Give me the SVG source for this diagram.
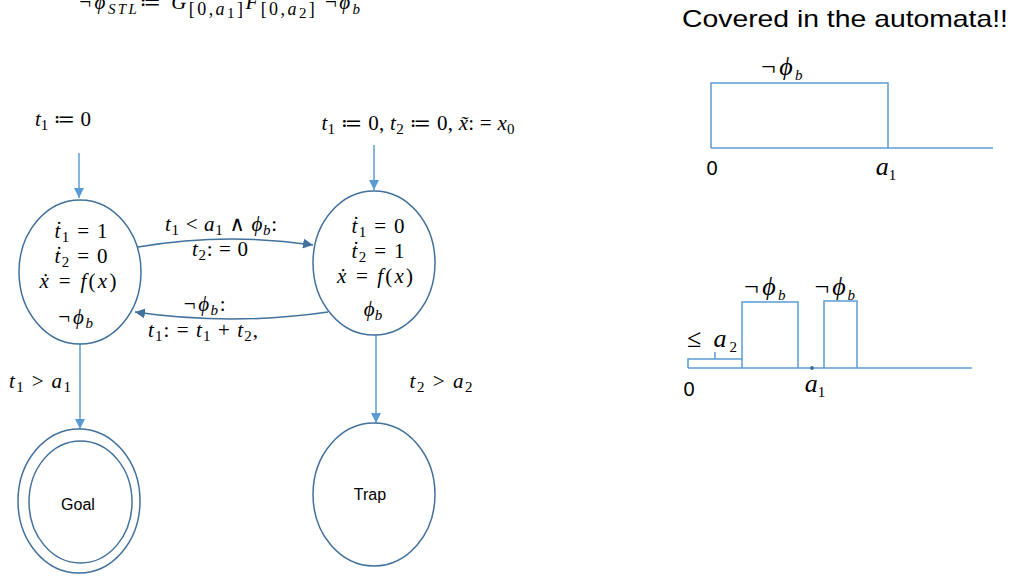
<svg xmlns="http://www.w3.org/2000/svg" width="1013" height="576" viewBox="0 0 1013 576">
<style>
.st{fill:none;stroke:#41719C;stroke-width:1.5}
.cn{fill:none;stroke:#5B9BD5;stroke-width:1.5}
.tr{fill:none;stroke:#41719C;stroke-width:1.5}
.ch{fill:none;stroke:#5B9BD5;stroke-width:1.5}
.m{font-family:"Liberation Serif","DejaVu Serif",serif;font-size:21px;fill:#000}
.big{font-size:26px}
.i{font-style:italic}
.s{font-size:15px}
.bs{font-size:18px}
.sans{font-family:"Liberation Sans","DejaVu Sans",sans-serif;fill:#000}
</style>
<defs>
<marker id="al" viewBox="0 0 10 10" refX="10" refY="5" markerWidth="10" markerHeight="10" orient="auto" markerUnits="userSpaceOnUse"><path d="M0,0 L10,5 L0,10 z" fill="#5B9BD5"/></marker>
<marker id="ad" viewBox="0 0 10 10" refX="10" refY="5" markerWidth="10" markerHeight="10" orient="auto" markerUnits="userSpaceOnUse"><path d="M0,0 L10,5 L0,10 z" fill="#41719C"/></marker>
</defs>

<text class="m" x="78" y="9" font-size="26" textLength="282" lengthAdjust="spacing"><tspan class="i">¬ϕ</tspan><tspan class="s i" dy="5">STL</tspan><tspan dy="-5">≔ </tspan><tspan class="i">G</tspan><tspan class="bs" dy="6">[0,</tspan><tspan class="bs i">a</tspan><tspan class="s" dy="3">1</tspan><tspan class="bs" dy="-3">]</tspan><tspan class="i" dy="-6">F</tspan><tspan class="bs" dy="6">[0,</tspan><tspan class="bs i">a</tspan><tspan class="s" dy="3">2</tspan><tspan class="bs" dy="-3">]</tspan><tspan dy="-6"> ¬</tspan><tspan class="i">ϕ</tspan><tspan class="s i" dy="5">b</tspan></text>

<text class="sans" x="682" y="27" font-size="24" textLength="326" lengthAdjust="spacingAndGlyphs">Covered in the automata!!</text>

<g id="connectors">
<line class="cn" x1="79" y1="153" x2="79" y2="198" marker-end="url(#al)"/>
<line class="cn" x1="374" y1="145" x2="374" y2="190" marker-end="url(#al)"/>
<line class="cn" x1="80" y1="344" x2="80" y2="429" marker-end="url(#al)"/>
<line class="cn" x1="376" y1="335" x2="376" y2="423" marker-end="url(#al)"/>
<path class="tr" d="M138,247 Q226,232 313,245" marker-end="url(#ad)"/>
<path class="tr" d="M328,312 Q232,326 135,312" marker-end="url(#ad)"/>
<text class="m" x="63" y="126" text-anchor="middle" textLength="56" lengthAdjust="spacing"><tspan class="i">t</tspan><tspan class="s" dy="4">1</tspan><tspan dy="-4"> ≔ 0</tspan></text>
<text class="m" x="418" y="130" text-anchor="middle" textLength="193" lengthAdjust="spacing"><tspan class="i">t</tspan><tspan class="s" dy="4">1</tspan><tspan dy="-4"> ≔ 0, </tspan><tspan class="i">t</tspan><tspan class="s" dy="4">2</tspan><tspan dy="-4"> ≔ 0, </tspan><tspan class="i">x̃</tspan><tspan>: = </tspan><tspan class="i">x</tspan><tspan class="s" dy="4">0</tspan></text>
<text class="m" x="221" y="231" text-anchor="middle" textLength="112" lengthAdjust="spacing"><tspan class="i">t</tspan><tspan class="s" dy="4">1</tspan><tspan dy="-4"> &lt; </tspan><tspan class="i">a</tspan><tspan class="s" dy="4">1</tspan><tspan dy="-4"> ∧ </tspan><tspan class="i">ϕ</tspan><tspan class="s i" dy="4">b</tspan><tspan dy="-4">:</tspan></text>
<text class="m" x="220" y="256" text-anchor="middle" textLength="56" lengthAdjust="spacing"><tspan class="i">t</tspan><tspan class="s" dy="4">2</tspan><tspan dy="-4">: = 0</tspan></text>
<text class="m" x="204" y="311" text-anchor="middle" textLength="43" lengthAdjust="spacing"><tspan class="i">¬ϕ</tspan><tspan class="s i" dy="4">b</tspan><tspan dy="-4">:</tspan></text>
<text class="m" x="203" y="337" text-anchor="middle" textLength="110" lengthAdjust="spacing"><tspan class="i">t</tspan><tspan class="s" dy="4">1</tspan><tspan dy="-4">: = </tspan><tspan class="i">t</tspan><tspan class="s" dy="4">1</tspan><tspan dy="-4"> + </tspan><tspan class="i">t</tspan><tspan class="s" dy="4">2</tspan><tspan dy="-4">,</tspan></text>
<text class="m" x="40" y="388" text-anchor="middle" textLength="62" lengthAdjust="spacing"><tspan class="i">t</tspan><tspan class="s" dy="4">1</tspan><tspan dy="-4"> &gt; </tspan><tspan class="i">a</tspan><tspan class="s" dy="4">1</tspan></text>
<text class="m" x="441" y="388" text-anchor="middle" textLength="63" lengthAdjust="spacing"><tspan class="i">t</tspan><tspan class="s" dy="4">2</tspan><tspan dy="-4"> &gt; </tspan><tspan class="i">a</tspan><tspan class="s" dy="4">2</tspan></text>
</g>

<g id="s1">
<ellipse class="st" cx="80" cy="272" rx="61" ry="72"/>
<text class="m" x="81" y="238" text-anchor="middle" textLength="53" lengthAdjust="spacing"><tspan class="i">ṫ</tspan><tspan class="s" dy="4">1</tspan><tspan dy="-4"> = 1</tspan></text>
<text class="m" x="81" y="263" text-anchor="middle" textLength="53" lengthAdjust="spacing"><tspan class="i">ṫ</tspan><tspan class="s" dy="4">2</tspan><tspan dy="-4"> = 0</tspan></text>
<text class="m" x="78" y="288" text-anchor="middle" textLength="77" lengthAdjust="spacing"><tspan class="i">ẋ</tspan><tspan> = </tspan><tspan class="i">f</tspan><tspan>(</tspan><tspan class="i">x</tspan><tspan>)</tspan></text>
<text class="m" x="75" y="324" text-anchor="middle" textLength="36" lengthAdjust="spacing"><tspan class="i">¬ϕ</tspan><tspan class="s i" dy="4">b</tspan></text>
</g>

<g id="s2">
<ellipse class="st" cx="374" cy="263" rx="61" ry="72"/>
<text class="m" x="378" y="233" text-anchor="middle" textLength="53" lengthAdjust="spacing"><tspan class="i">ṫ</tspan><tspan class="s" dy="4">1</tspan><tspan dy="-4"> = 0</tspan></text>
<text class="m" x="378" y="258" text-anchor="middle" textLength="53" lengthAdjust="spacing"><tspan class="i">ṫ</tspan><tspan class="s" dy="4">2</tspan><tspan dy="-4"> = 1</tspan></text>
<text class="m" x="375" y="283" text-anchor="middle" textLength="76" lengthAdjust="spacing"><tspan class="i">ẋ</tspan><tspan> = </tspan><tspan class="i">f</tspan><tspan>(</tspan><tspan class="i">x</tspan><tspan>)</tspan></text>
<text class="m" x="373" y="316" text-anchor="middle"><tspan class="i">ϕ</tspan><tspan class="s i" dy="4">b</tspan></text>
</g>

<g id="goal">
<ellipse class="st" cx="79" cy="501" rx="61" ry="72"/>
<ellipse class="st" cx="80.5" cy="502" rx="51.5" ry="61"/>
<text class="sans" x="78" y="510" font-size="16" text-anchor="middle">Goal</text>
</g>

<g id="trap">
<ellipse class="st" cx="374" cy="494.5" rx="61" ry="71.5"/>
<text class="sans" x="370" y="500" font-size="16" text-anchor="middle">Trap</text>
</g>

<g id="chart1">
<polyline class="ch" points="711,148 711,83 888,83 888,148"/>
<line class="ch" x1="711" y1="148" x2="993" y2="148"/>
<text class="m big" x="781" y="75" text-anchor="middle" textLength="43" lengthAdjust="spacing"><tspan class="i">¬ϕ</tspan><tspan class="s i" dy="5">b</tspan></text>
<text class="sans" x="712" y="175" font-size="20" text-anchor="middle">0</text>
<text class="m big" x="886" y="175" text-anchor="middle"><tspan class="i">a</tspan><tspan class="s" dy="5">1</tspan></text>
</g>

<g id="chart2">
<line class="ch" x1="688" y1="368" x2="972" y2="368"/>
<polyline class="ch" points="688,368 688,359 742,359"/>
<line class="ch" x1="715" y1="352" x2="715" y2="359"/>
<polyline class="ch" points="742,368 742,302 798,302 798,368"/>
<polyline class="ch" points="824,368 824,301 857,301 857,368"/>
<circle cx="812" cy="368" r="2" fill="#41719C"/>
<text class="m big" x="712" y="347" text-anchor="middle" textLength="50" lengthAdjust="spacing"><tspan>≤ </tspan><tspan class="i">a</tspan><tspan class="s" dy="5">2</tspan></text>
<text class="m big" x="764" y="295" text-anchor="middle" textLength="43" lengthAdjust="spacing"><tspan class="i">¬ϕ</tspan><tspan class="s i" dy="5">b</tspan></text>
<text class="m big" x="834" y="295" text-anchor="middle" textLength="42" lengthAdjust="spacing"><tspan class="i">¬ϕ</tspan><tspan class="s i" dy="5">b</tspan></text>
<text class="sans" x="689" y="396" font-size="20" text-anchor="middle">0</text>
<text class="m big" x="815" y="392" text-anchor="middle"><tspan class="i">a</tspan><tspan class="s" dy="5">1</tspan></text>
</g>
</svg>
